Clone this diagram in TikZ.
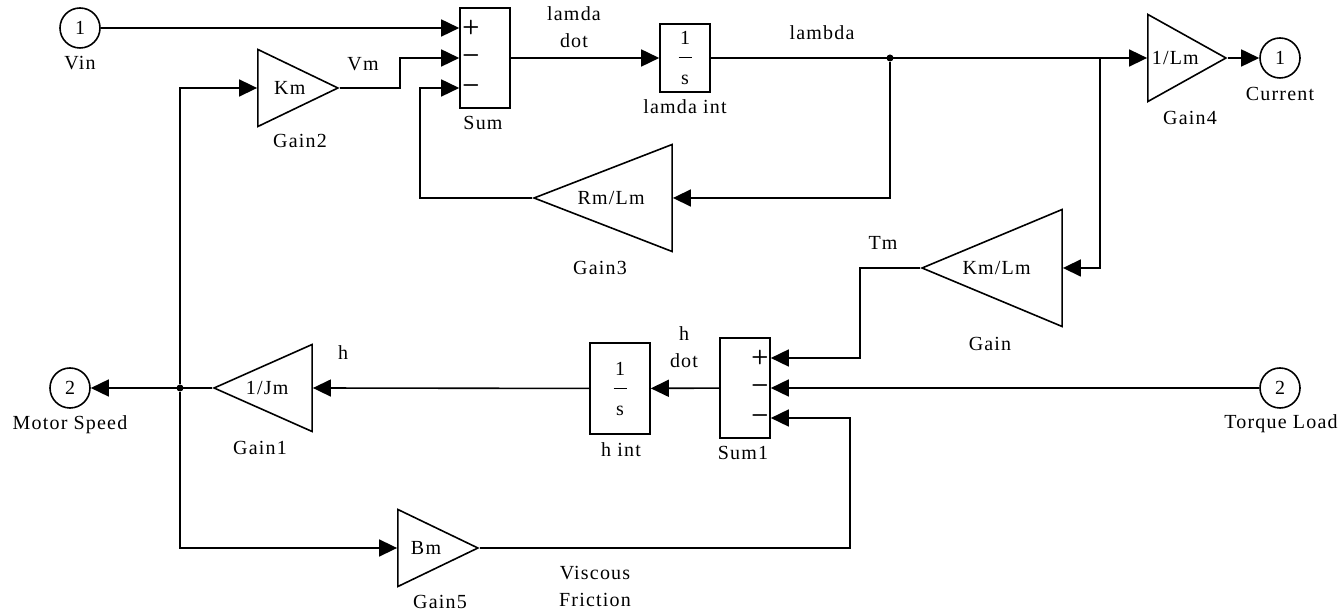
\documentclass[tikz,border=0pt]{standalone}
\usepackage{fontspec}
\setmainfont{Liberation Serif}[LetterSpace=6]
\usetikzlibrary{arrows.meta,shapes.geometric,calc}

\tikzset{
  sig/.style={draw, line width=0.8pt, -{Triangle[length=9pt,width=8.5pt]}},
  gainR/.style={draw, line width=0.8pt, isosceles triangle, isosceles triangle stretches, inner sep=0pt},
  gainL/.style={gainR, shape border rotate=180},
  port/.style={draw, circle, line width=0.8pt, minimum size=20pt, inner sep=0pt},
  sumbox/.style={draw, line width=0.8pt, minimum width=25pt, minimum height=50pt, inner sep=0pt},
  sign/.style={font=\sffamily\bfseries\fontsize{10}{10}\selectfont, inner sep=0pt},
  intbox/.style={draw, line width=0.8pt, inner sep=0pt, align=center, font=\fontsize{10}{10}\selectfont},
  joint/.style={circle, fill, inner sep=0pt, minimum size=3.5pt},
}

\begin{document}
\begin{tikzpicture}[x=0.5pt, y=-0.5pt, font=\fontsize{10}{13.5}\selectfont]
	\useasboundingbox (0,0) rectangle (1342,613);

	\node[port] at (80,28) (vin) {1};
	\node at (80,63) (vin-lbl) {Vin};
	\node[port] at (1280,58) (cur) {1};
	\node at (1280,94) (cur-lbl) {Current};
	\node[port] at (70,388) (mspeed) {2};
	\node at (70,425) (mspeed-lbl) {Motor Speed};
	\node[port] at (1280,388) (tload) {2};
	\node at (1281,424) (tload-lbl) {Torque Load};

	\node[sumbox] at (485,58) (sum) {};
	\node[sign] at (471,28) (sum-s1) {+};
	\node[sign] at (471,58) (sum-s2) {\textminus};
	\node[sign] at (471,88) (sum-s3) {\textminus};
	\node at (483,123) (sum-lbl) {Sum};
	\coordinate (sum-in1) at ($(sum.west)+(0,-30)$);
	\coordinate (sum-in3) at ($(sum.west)+(0,30)$);

	\node[sumbox] at (745,388) (sum1) {};
	\node[sign] at (760,358) (sum1-s1) {+};
	\node[sign] at (760,388) (sum1-s2) {\textminus};
	\node[sign] at (760,418) (sum1-s3) {\textminus};
	\node at (743,453) (sum1-lbl) {Sum1};
	\coordinate (s1in1) at ($(sum1.east)+(0,-30)$);
	\coordinate (s1in3) at ($(sum1.east)+(0,30)$);

	\node[intbox, minimum width=25pt, minimum height=34pt] at (685,58) (lamint) {1\\[0pt]\rule[3pt]{6.5pt}{0.6pt}\\[0pt]s};
	\node at (685,107) (lamint-lbl) {lamda int};
	\node[intbox, minimum width=30pt, minimum height=45.5pt] at (620,388.5) (hint) {1\\[0pt]\rule[3pt]{6.5pt}{0.6pt}\\[0pt]s};
	\node at (621,450) (hint-lbl) {h int};

	\node[gainR, minimum height=40pt, minimum width=38.5pt, anchor=apex] at (340,88) (gain2) {\hspace*{4pt}Km};
	\node at (300,141) (gain2-lbl) {Gain2};
	\node[gainR, minimum height=39pt, minimum width=43.5pt, anchor=apex] at (1228,58) (gain4) {1/Lm\hspace*{3.5pt}};
	\node at (1190,118) (gain4-lbl) {Gain4};
	\node[gainR, minimum height=40pt, minimum width=38.5pt, anchor=apex] at (480,548) (gain5) {\hspace*{1.5pt}Bm};
	\node at (440,602) (gain5-lbl) {Gain5};
	\node[gainL, minimum height=69pt, minimum width=53.5pt, anchor=apex] at (532,198) (gain3) {Rm/Lm\hspace*{9pt}};
	\node at (600,268) (gain3-lbl) {Gain3};
	\node[gainL, minimum height=70pt, minimum width=58.5pt, anchor=apex] at (920,268) (gain) {Km/Lm\hspace*{11pt}};
	\node at (990,344) (gain-lbl) {Gain};
	\node[gainL, minimum height=49pt, minimum width=43.5pt, anchor=apex] at (212,388) (gain1) {1/Jm\hspace*{8.5pt}};
	\node at (260,448) (gain1-lbl) {Gain1};

	\node[align=center] at (574,27) (lamdot-lbl) {lamda\\dot};
	\node at (822,33) (lambda-lbl) {lambda};
	\node at (363,64) (vm-lbl) {Vm};
	\node at (883,243) (tm-lbl) {Tm};
	\node at (343,353) (h-lbl) {h};
	\node[align=center] at (684,347) (hdot-lbl) {h\\dot};
	\node[align=center] at (595,586) (visc-lbl) {Viscous\\Friction};

	\node[joint] at (890,58) (jl) {};
	\node[joint] at (180,388) (js) {};
	\coordinate (jk) at (1100,58);

	\draw[sig] (vin) -- (sum-in1);
	\draw[sig] (gain2.east) -- (400,88) |- (sum.west);
	\draw[sig] (gain3.west) -| (420,88) -- (sum-in3);
	\draw[sig] (sum.east) -- (lamint);
	\draw[sig] (lamint) -- (gain4.west);
	\draw[sig] (gain4.east) -- (cur);
	\draw[sig] (jl) |- (gain3.east);
	\draw[sig] (jk) |- (gain.east);
	\draw[sig] (gain.west) -| (860,358) -- (s1in1);
	\draw[sig] (tload) -- (sum1.east);
	\draw[sig] (gain5.east) -| (850,418) -- (s1in3);
	\draw[sig] (sum1) -- (hint);
	\draw[sig] (hint) -- (gain1.east);
	\draw[sig] (gain1.west) -- (mspeed);
	\draw[sig] (js) |- (gain2.west);
	\draw[sig] (js) |- (gain5.west);
\end{tikzpicture}
\end{document}
